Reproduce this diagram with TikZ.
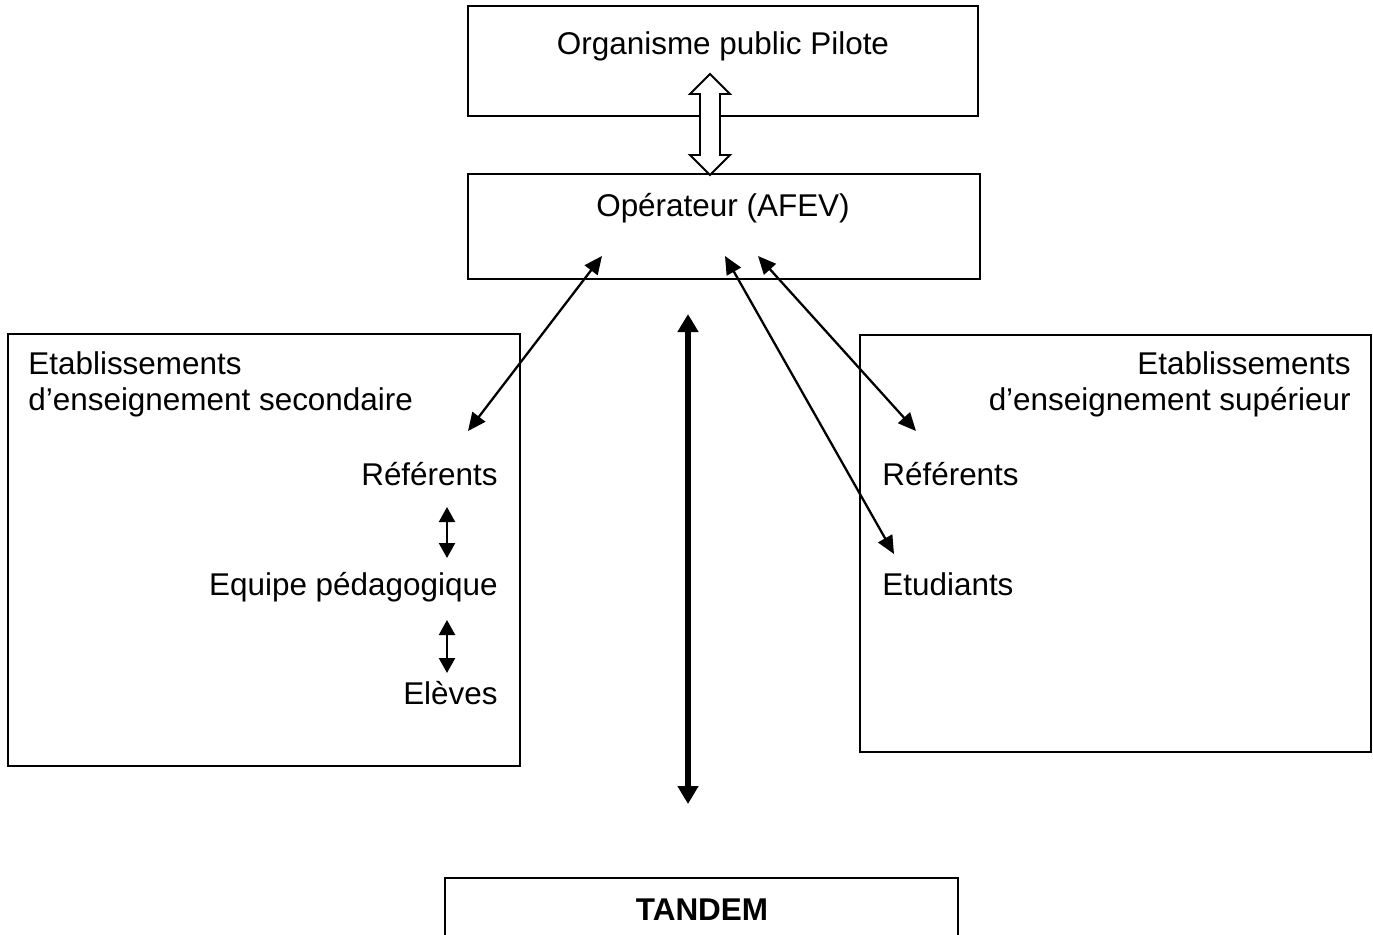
\documentclass[tikz,border=0pt]{standalone}
\usepackage{fontspec}
\setmainfont{Liberation Sans}
\usetikzlibrary{arrows.meta}

\tikzset{
  box/.style={draw, line width=1.1pt, inner sep=0pt, fill=white},
  lbl/.style={inner sep=0pt, font=\fontsize{17.9}{21.5}\selectfont},
  link/.style={line width=1.3pt, {Triangle[length=0.36cm,width=0.32cm]}-{Triangle[length=0.36cm,width=0.32cm]}},
  shortlink/.style={line width=1.3pt, {Triangle[length=0.3cm,width=0.32cm]}-{Triangle[length=0.3cm,width=0.32cm]}},
  mainlink/.style={line width=2.9pt, {Triangle[length=0.36cm,width=0.4cm]}-{Triangle[length=0.36cm,width=0.4cm]}}
}

\begin{document}
\begin{tikzpicture}[x=0.02cm,y=-0.02cm]
 \clip (0,0) rectangle (1373,934);
 \fill[white] (0,0) rectangle (1373,934);

 \node[box, minimum width=10.2cm, minimum height=2.2cm] (pilote) at (723,61) {};
 \node[box, minimum width=10.24cm, minimum height=2.1cm] (operateur) at (724,226.5) {};
 \node[box, minimum width=10.24cm, minimum height=8.64cm] (secondaire) at (264,550) {};
 \node[box, minimum width=10.22cm, minimum height=8.34cm] (superieur) at (1115.5,543.5) {};
 \node[box, minimum width=10.26cm, minimum height=2.04cm] (tandem) at (701.5,929) {};

 \node[lbl, anchor=base] (tpilote) at (723,54) {Organisme public Pilote};
 \node[lbl, anchor=base] (toperateur) at (723,216) {Opérateur (AFEV)};

 \node[lbl, anchor=base west] (etab1) at (28,374) {Etablissements};
 \node[lbl, anchor=base west] (ens1) at (28,410) {d’enseignement secondaire};
 \node[lbl, anchor=base east] (ref1) at (498,485) {Référents};
 \node[lbl, anchor=base east] (equipe) at (498,595) {Equipe pédagogique};
 \node[lbl, anchor=base east] (eleves) at (498,704) {Elèves};

 \node[lbl, anchor=base east] (etab2) at (1351,374) {Etablissements};
 \node[lbl, anchor=base east] (ens2) at (1351,410) {d’enseignement supérieur};
 \node[lbl, anchor=base west] (ref2) at (882,485) {Référents};
 \node[lbl, anchor=base west] (etud) at (882,595) {Etudiants};

 \node[lbl, anchor=base, font=\fontsize{17.9}{21.5}\selectfont\bfseries] (ttandem) at (702,920) {TANDEM};

 % double fleche creuse
 \draw[line width=1.1pt, fill=white] (710,74) -- (730,94) -- (720,94) -- (720,155) -- (730,155)
   -- (710,175) -- (690,155) -- (700,155) -- (700,94) -- (690,94) -- cycle;

 \coordinate (opA) at (602,256);
 \coordinate (opB) at (725,256);
 \coordinate (opC) at (758,256);
 \coordinate (secRef) at (468,431);
 \coordinate (supRef) at (916,431);
 \coordinate (supEtu) at (894,554);

 \draw[link] (opA) -- (secRef);
 \draw[link] (opB) -- (supEtu);
 \draw[link] (opC) -- (supRef);

 \coordinate (r1) at (447,507);
 \coordinate (e1) at (447,558);
 \coordinate (r2) at (447,620);
 \coordinate (e2) at (447,673);
 \draw[shortlink] (r1) -- (e1);
 \draw[shortlink] (r2) -- (e2);

 \coordinate (mTop) at (688,314);
 \coordinate (mBot) at (688,804);
 \draw[mainlink] (mTop) -- (mBot);
\end{tikzpicture}
\end{document}
